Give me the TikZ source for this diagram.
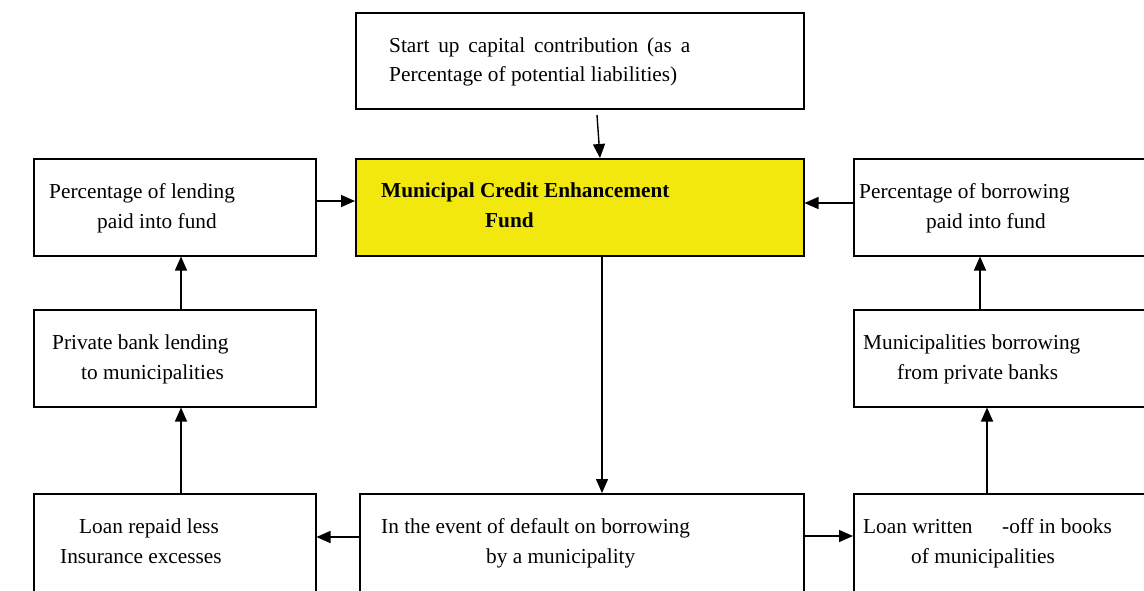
\documentclass[tikz,border=0pt]{standalone}
\usepackage{fontspec}
\setmainfont{Liberation Serif}
\usetikzlibrary{arrows.meta,calc}
\definecolor{fundyellow}{RGB}{242,232,14}
\tikzset{
  box/.style={draw=black, line width=1.5pt, fill=white, inner sep=0pt, anchor=north west},
  fundbox/.style={box, fill=fundyellow},
  txt/.style={anchor=base west, inner sep=0pt, font=\fontsize{21.3}{26}\selectfont},
  btxt/.style={txt, font=\fontsize{21.3}{26}\selectfont\bfseries},
  arr/.style={draw=black, line width=1.4pt, -{Triangle[length=14pt,width=12pt]}},
}
\begin{document}
\begin{tikzpicture}[x=1pt,y=-1pt]
  \useasboundingbox (0,0) rectangle (1144,590);
  \clip (0,0) rectangle (1144,590);

  % boxes (the right column and bottom row run past the edge)
  \node[box, minimum width=448pt, minimum height=96pt] (cap) at (355,12) {};
  \node[fundbox, minimum width=448pt, minimum height=97pt] (fund) at (355,158) {};
  \node[box, minimum width=282pt, minimum height=97pt] (lend) at (33,158) {};
  \node[box, minimum width=330pt, minimum height=97pt] (borrow) at (853,158) {};
  \node[box, minimum width=282pt, minimum height=97pt] (bank) at (33,309) {};
  \node[box, minimum width=330pt, minimum height=97pt] (muni) at (853,309) {};
  \node[box, minimum width=282pt, minimum height=150pt] (repaid) at (33,493) {};
  \node[box, minimum width=444pt, minimum height=150pt] (default) at (359,493) {};
  \node[box, minimum width=330pt, minimum height=150pt] (written) at (853,493) {};

  % box texts
  \node[txt] (capA) at (389,52) {\makebox[301pt][s]{Start up capital contribution (as a}};
  \node[txt] (capB) at (389,81) {Percentage of potential liabilities)};
  \node[btxt] (fundA) at (381,197) {Municipal Credit Enhancement};
  \node[btxt] (fundB) at (485,227) {Fund};
  \node[txt] (lendA) at (49,198) {Percentage of lending};
  \node[txt] (lendB) at (97,228) {paid into fund};
  \node[txt] (borrowA) at (859,198) {Percentage of borrowing};
  \node[txt] (borrowB) at (926,228) {paid into fund};
  \node[txt] (bankA) at (52,349) {Private bank lending};
  \node[txt] (bankB) at (81,379) {to municipalities};
  \node[txt] (muniA) at (863,349) {Municipalities borrowing};
  \node[txt] (muniB) at (897,379) {from private banks};
  \node[txt] (repaidA) at (79,533) {Loan repaid less};
  \node[txt] (repaidB) at (60,563) {Insurance excesses};
  \node[txt] (defaultA) at (381,533) {In the event of default on borrowing};
  \node[txt] (defaultB) at (486,563) {by a municipality};
  \node[txt] (writtenA) at (863,533) {Loan written};
  \node[txt] (writtenC) at (1002,533) {-off in books};
  \node[txt] (writtenB) at (911,563) {of municipalities};

  % connectors
  \coordinate (capout) at (597,115);
  \draw[arr] (capout) -- (fund.north -| 600,0);
  \draw[arr] (lend.east |- 0,201) -- (fund.west |- 0,201);
  \draw[arr] (borrow.west |- 0,203) -- (fund.east |- 0,203);
  \draw[arr] (bank.north -| 181,0) -- (lend.south -| 181,0);
  \draw[arr] (repaid.north -| 181,0) -- (bank.south -| 181,0);
  \draw[arr] (muni.north -| 980,0) -- (borrow.south -| 980,0);
  \draw[arr] (written.north -| 987,0) -- (muni.south -| 987,0);
  \draw[arr] (fund.south -| 602,0) -- (default.north -| 602,0);
  \draw[arr] (default.west |- 0,537) -- (repaid.east |- 0,537);
  \draw[arr] (default.east |- 0,536) -- (written.west |- 0,536);
\end{tikzpicture}
\end{document}
